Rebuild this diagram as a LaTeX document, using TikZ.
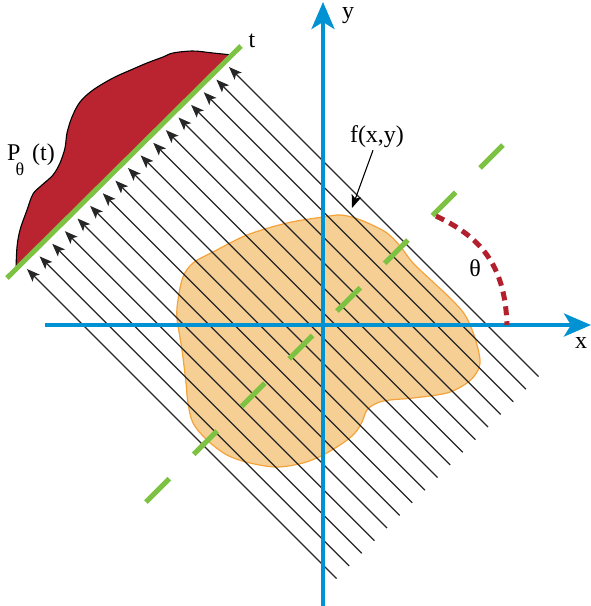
\documentclass[tikz,border=0pt]{standalone}
\usepackage{fontspec}
\setmainfont{Liberation Serif}
\usetikzlibrary{arrows.meta}
\definecolor{axisblue}{RGB}{0,146,210}
\definecolor{detgreen}{RGB}{125,194,67}
\definecolor{profred}{RGB}{186,35,48}
\definecolor{arcred}{RGB}{178,32,46}
\definecolor{blobfill}{RGB}{246,207,149}
\definecolor{blobline}{RGB}{244,162,58}
\tikzset{
  axis/.style={draw=axisblue, line width=4pt, -{Stealth[length=27pt,width=23pt,inset=7pt]}},
  ray/.style={draw=black!85, line width=1.1pt, -{Stealth[length=13pt,width=10pt,inset=3pt]}},
  detector/.style={draw=detgreen, line width=5pt},
  tdash/.style={draw=detgreen, line width=5pt, dash pattern=on 33pt off 34.5pt},
  arcstyle/.style={draw=arcred, line width=5pt, dash pattern=on 9pt off 6pt},
  blob/.style={fill=blobfill, draw=blobline, line width=1.2pt},
  profile/.style={fill=profred, draw=black, line width=1.1pt},
  lab/.style={font=\fontsize{24}{28}\selectfont, inner sep=0pt},
}
\begin{document}
\begin{tikzpicture}[x=1pt,y=-1pt]
\useasboundingbox (0,0) rectangle (590,606);
% projection profile
\draw[profile] plot[smooth, tension=0.55] coordinates {(16,269) (17,247) (20,230) (27,210) (33,194) (42,185) (53,175) (60,163) (65,148) (67,133) (72,117) (80,102) (93,90) (113,78) (133,69) (147,63) (163,57) (173,53) (193,51) (213,53) (232,55)} -- cycle;
% detector line
\coordinate (g1) at (7,278);
\coordinate (g2) at (241,46);
\draw[detector] (g1) -- (g2);
% object
\draw[blob] plot[smooth cycle, tension=0.55] coordinates {(323,217) (340,215) (355,218) (370,224) (387,233) (400,246) (413,263) (433,282) (450,298) (465,315) (475,338) (480,360) (477,372) (467,383) (447,393) (413,398) (390,400) (377,403) (367,410) (362,422) (355,433) (343,443) (323,455) (303,463) (277,467) (250,463) (227,455) (207,440) (193,423) (188,403) (186,383) (182,350) (177,318) (178,300) (183,277) (193,263) (213,252) (247,235) (287,223)};
% rays
\foreach \k in {0,...,16}{
  \pgfmathsetmacro{\dd}{-242+25.25*\k}
  \coordinate (ra\k) at ({(915+\dd)/2},{(915-\dd)/2});
  \coordinate (rb\k) at ({(296+\dd)/2},{(296-\dd)/2});
  \draw[ray] (ra\k) -- (rb\k);
}
% rotated t axis
\coordinate (td1) at (146,502);
\coordinate (td2) at (503,145);
\draw[tdash] (td1) -- (td2);
% axes
\coordinate (xl) at (45,325);
\coordinate (xr) at (591,325);
\coordinate (yb) at (323,606);
\coordinate (yt) at (323,2);
\draw[axis] (xl) -- (xr);
\draw[axis] (yb) -- (yt);
% theta arc
\coordinate (th1) at (436,216);
\coordinate (th2) at (507,325);
\draw[arcstyle] (th1) .. controls (478,236) and (505,262) .. (th2);
% labels
\node[lab] (ylab) at (348,16) {y};
\node[lab] (xlab) at (581,343) {x};
\node[lab] (tlab) at (252,41) {t};
\node[lab] (thlab) at (475,268) {θ};
\node[lab] (flab) at (377,137) {f(x,y)};
\node[lab, anchor=base west] (plab) at (7,160) {P\kern-5pt\raisebox{-15pt}{\fontsize{18}{18}\selectfont θ}\kern 8pt(t)};
\coordinate (ftip) at (352,208);
\draw[draw=black, line width=1.1pt, -{Stealth[length=13pt,width=10pt,inset=3pt]}] (flab.south) ++(-4,2) -- (ftip);
\end{tikzpicture}
\end{document}
